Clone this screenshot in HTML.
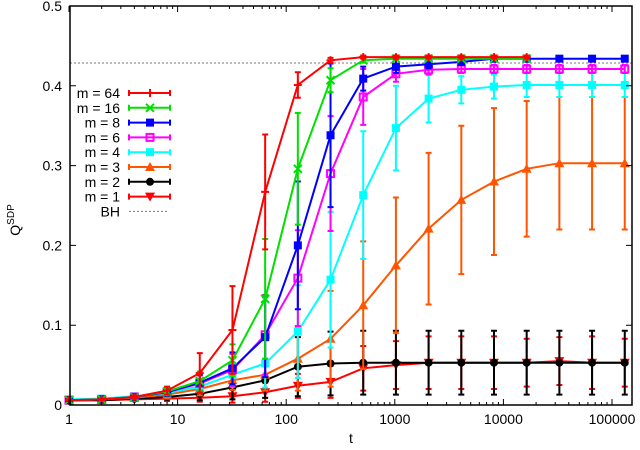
<!DOCTYPE html>
<html><head><meta charset="utf-8"><style>
body{margin:0;background:#fff;width:640px;height:445px;overflow:hidden}
svg text{font-family:"Liberation Sans",sans-serif;font-size:14px;fill:#000}
</style></head><body>
<svg id="chart" width="640" height="445" xmlns="http://www.w3.org/2000/svg"></svg>
<script>
const tValues=[1,2,4,8,16,32,64,128,256,512,1024,2048,4096,8192,16384,32768,65536,131072];
const xTicks=[1,10,100,1000,10000,100000];
const yTicks=[0,0.1,0.2,0.3,0.4,0.5];
const bhValue=0.4286;
const m64=[0.006,0.007,0.010,0.018,0.040,0.094,0.267,0.401,0.432,0.436,0.436,0.436,0.436,0.436,0.436];
const m64err=[0.001,0.001,0.002,0.005,0.025,0.055,0.072,0.016,0.003,0.002,0.002,0.002,0.002,0.002,0.002];
const m16=[0.006,0.007,0.010,0.017,0.030,0.056,0.133,0.296,0.407,0.432,0.434,0.434,0.434,0.434,0.434];
const m16err=[0.001,0.001,0.002,0.005,0.012,0.02,0.075,0.07,0.015,0.003,0.002,0.002,0.002,0.002,0.002];
const m8=[0.006,0.007,0.010,0.016,0.028,0.046,0.085,0.200,0.338,0.409,0.424,0.427,0.430,0.434,0.434,0.434,0.434,0.434];
const m8err=[0.001,0.001,0.002,0.005,0.01,0.02,0.05,0.08,0.09,0.015,0.008,0.005,0.004,0.003,0.003,0.003,0.003,0.003];
const m6=[0.006,0.007,0.010,0.016,0.027,0.044,0.088,0.159,0.290,0.386,0.415,0.420,0.421,0.421,0.421,0.421,0.421,0.421];
const m6err=[0.001,0.001,0.002,0.005,0.01,0.02,0.05,0.06,0.072,0.035,0.01,0.006,0.005,0.005,0.005,0.005,0.005,0.005];
const m4=[0.007,0.008,0.011,0.015,0.023,0.038,0.052,0.092,0.157,0.263,0.347,0.384,0.395,0.399,0.401,0.401,0.401,0.401];
const m4err=[0.002,0.002,0.003,0.005,0.008,0.015,0.03,0.058,0.085,0.08,0.053,0.03,0.017,0.015,0.015,0.015,0.015,0.015];
const m3=[0.006,0.007,0.009,0.013,0.020,0.031,0.038,0.058,0.083,0.125,0.175,0.221,0.257,0.280,0.296,0.303,0.303,0.303];
const m3err=[0.001,0.002,0.003,0.005,0.008,0.012,0.02,0.04,0.06,0.08,0.085,0.095,0.093,0.092,0.085,0.083,0.083,0.083];
const m2=[0.006,0.006,0.008,0.010,0.014,0.022,0.031,0.048,0.052,0.053,0.053,0.053,0.053,0.053,0.053,0.053,0.053,0.053];
const m2err=[0.001,0.001,0.002,0.003,0.008,0.015,0.022,0.037,0.04,0.04,0.04,0.04,0.04,0.04,0.04,0.04,0.04,0.04];
const m1=[0.006,0.006,0.007,0.008,0.009,0.011,0.016,0.024,0.029,0.046,0.050,0.053,0.053,0.053,0.053,0.055,0.053,0.053];
const m1err=[0.001,0.001,0.002,0.003,0.005,0.008,0.012,0.015,0.02,0.028,0.03,0.033,0.033,0.033,0.03,0.03,0.033,0.03];
const labels=["m = 64","m = 16","m = 8","m = 6","m = 4","m = 3","m = 2","m = 1"];

const NS="http://www.w3.org/2000/svg";
const svg=document.getElementById('chart');
const L=70,R=632,T=6,B=405;
function X(t){return 69+Math.log10(t)*108.6;}
function Y(v){return 405-v*798;}
function mk(tag,attrs,parent){const e=document.createElementNS(NS,tag);for(const k in attrs)e.setAttribute(k,attrs[k]);(parent||svg).appendChild(e);return e;}

// BH line
const bh=mk('line',{x1:L,x2:R,y1:Y(bhValue),y2:Y(bhValue),stroke:'#777','stroke-width':1,'stroke-dasharray':'2,2'});



const series=[
 {n:'m64',v:m64,e:m64err,c:'#ff0000',mk:'plus'},
 {n:'m16',v:m16,e:m16err,c:'#00e000',mk:'x'},
 {n:'m8',v:m8,e:m8err,c:'#0000ff',mk:'fsq'},
 {n:'m6',v:m6,e:m6err,c:'#ff00ff',mk:'osq'},
 {n:'m4',v:m4,e:m4err,c:'#00ffff',mk:'fsq'},
 {n:'m3',v:m3,e:m3err,c:'#ff5500',mk:'tri'},
 {n:'m2',v:m2,e:m2err,c:'#000000',mk:'circ'},
 {n:'m1',v:m1,e:m1err,c:'#ff0000',mk:'itri'}
];
function marker(g,type,x,y,c){
  if(type==='plus'){mk('path',{d:`M${x-4} ${y}H${x+4}M${x} ${y-4}V${y+4}`,stroke:c,'stroke-width':2},g);}
  else if(type==='x'){mk('path',{d:`M${x-4} ${y-4}L${x+4} ${y+4}M${x-4} ${y+4}L${x+4} ${y-4}`,stroke:c,'stroke-width':2},g);}
  else if(type==='fsq'){mk('rect',{x:x-4,y:y-4,width:8,height:8,fill:c},g);}
  else if(type==='osq'){mk('rect',{x:x-3.5,y:y-3.5,width:7,height:7,fill:'none',stroke:c,'stroke-width':2},g);}
  else if(type==='tri'){mk('path',{d:`M${x} ${y-5}L${x+5} ${y+4}L${x-5} ${y+4}Z`,fill:c},g);}
  else if(type==='itri'){mk('path',{d:`M${x} ${y+5}L${x+5} ${y-4}L${x-5} ${y-4}Z`,fill:c},g);}
  else if(type==='circ'){mk('circle',{cx:x,cy:y,r:4,fill:c},g);}
}
for(let si=series.length-1;si>=0;si--){
  const s=series[si];
  const g=mk('g',{});
  
  
  let d='';
  s.v.forEach((v,i)=>{d+=(i?'L':'M')+X(tValues[i]).toFixed(1)+' '+Y(v).toFixed(1);});
  mk('path',{d:d,fill:'none',stroke:s.c,'stroke-width':2},g);
  s.v.forEach((v,i)=>{
    const x=X(tValues[i]),y1=Y(Math.max(0,v-s.e[i])),y2=Y(v+s.e[i]);
    const eb=mk('path',{d:`M${x} ${y1}V${y2}M${x-3} ${y1}H${x+3}M${x-3} ${y2}H${x+3}`,stroke:s.c,'stroke-width':2},g);
    
    
    marker(g,s.mk,x,Y(v),s.c);
  });
}
// frame
const fr=mk('rect',{x:L,y:T,width:R-L,height:B-T,fill:'none',stroke:'#000','stroke-width':1.5});


// y ticks
yTicks.forEach(v=>{
  const y=Y(v);
  mk('path',{d:`M${L} ${y}H${L+6}M${R} ${y}H${R-6}`,stroke:'#000','stroke-width':1});
  const t=mk('text',{x:L-8,y:y+5,'text-anchor':'end'});t.textContent=v===0?'0':v.toFixed(1);
  
  
});
// x ticks
for(let d=0;d<6;d++){
  for(let k=1;k<10;k++){
    const tv=Math.pow(10,d)*k; const x=X(tv); if(x>R)break;
    const len=k===1?6:3;
    mk('path',{d:`M${x} ${B}V${B-len}M${x} ${T}V${T+len}`,stroke:'#000','stroke-width':1});
  }
}
xTicks.forEach(tv=>{
  const t=mk('text',{x:X(tv),y:424,'text-anchor':'middle'});t.textContent=String(tv);
  
  
});
const xt=mk('text',{x:351,y:443,'text-anchor':'middle'});xt.textContent='t';


const yt=mk('text',{transform:'translate(20,220) rotate(-90)','text-anchor':'middle'});
yt.innerHTML='Q<tspan dy="-6" font-size="10">SDP</tspan>';


// legend
const lg=mk('g',{});


series.forEach((s,i)=>{
  const y=93+i*14.8;
  const t=mk('text',{x:120,y:y+5,'text-anchor':'end'},lg);t.textContent=labels[i];
  mk('path',{d:`M129 ${y}H170M129 ${y-3}V${y+3}M170 ${y-3}V${y+3}`,stroke:s.c,'stroke-width':2},lg);
  marker(lg,s.mk,150,y,s.c);
});
const by=93+8*14.8;
const bt=mk('text',{x:120,y:by+5,'text-anchor':'end'},lg);bt.textContent='BH';
mk('line',{x1:129,x2:169,y1:by,y2:by,stroke:'#777','stroke-dasharray':'2,2'},lg);
</script>
</body></html>
